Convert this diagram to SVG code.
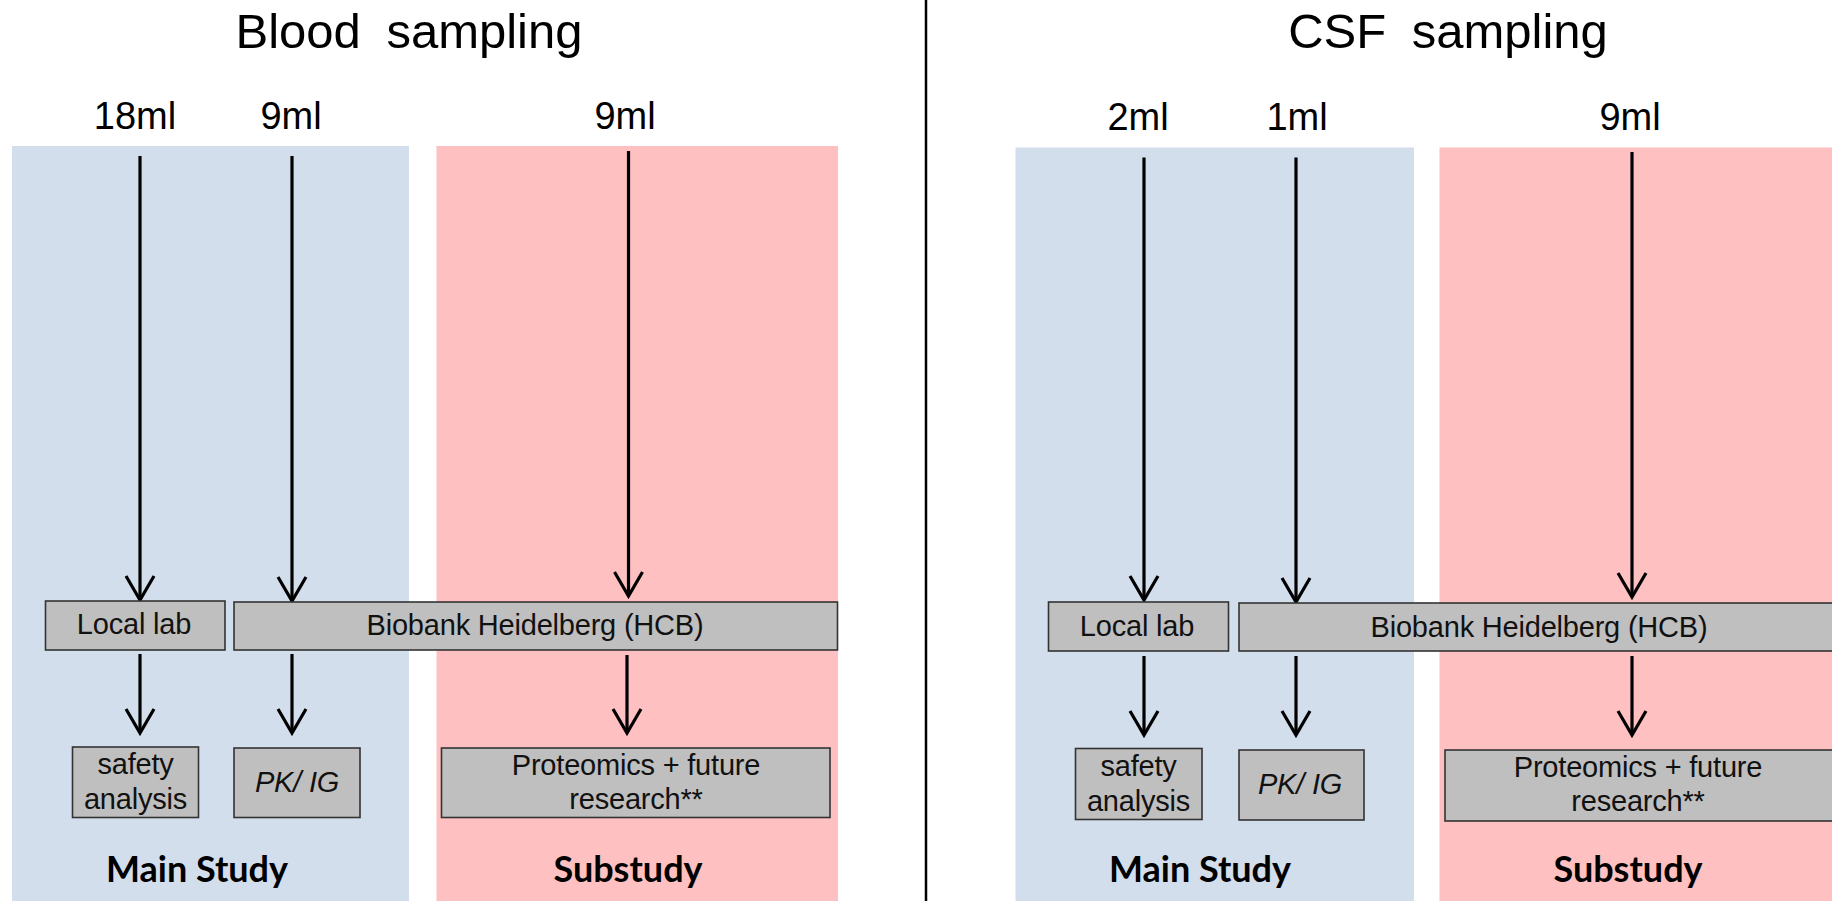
<svg xmlns="http://www.w3.org/2000/svg" width="1832" height="901" viewBox="0 0 1832 901">
  <style>
    .bg { fill: #ffffff; }
    .main { fill: #d3deed; }
    .sub { fill: #fec0c0; }
    .box { fill: #bfbfbf; stroke: #333333; stroke-width: 1.6; }
    .title { font-family: "Liberation Sans", Arial, sans-serif; font-size: 49px; word-spacing: 12px; fill: #000; text-anchor: middle; }
    .vol { font-family: "Liberation Sans", Arial, sans-serif; font-size: 38px; fill: #000; text-anchor: middle; }
    .lbl { font-family: "Liberation Sans", Arial, sans-serif; font-size: 29px; letter-spacing: -0.2px; fill: #111; text-anchor: middle; }
    .it { font-style: italic; }
    .study { font-family: Lato, "Open Sans", sans-serif; font-weight: bold; font-size: 36px; fill: #000; text-anchor: middle; }
    .flow { stroke: #000; stroke-width: 3.2; fill: none; marker-end: url(#vhead); }
    .divider { stroke: #000; stroke-width: 2.5; }
  </style>
  <defs>
    <marker id="vhead" markerUnits="userSpaceOnUse" viewBox="-28 -17 32 34" markerWidth="32" markerHeight="34" refX="0" refY="0" orient="auto">
      <path d="M -24 -14 L 0 0 L -24 14" fill="none" stroke="#000" stroke-width="3.2" stroke-linejoin="miter"/>
    </marker>
  </defs>

  <rect class="bg" x="0" y="0" width="1832" height="901"/>

  <!-- study areas -->
  <g id="areas">
    <rect class="main" x="12" y="146" width="397" height="760"/>
    <rect class="sub" x="436.5" y="146" width="401.5" height="760"/>
    <rect class="main" x="1015.5" y="147.5" width="398.5" height="760"/>
    <rect class="sub" x="1439.5" y="147.5" width="400" height="760"/>
  </g>

  <line class="divider" x1="926" y1="0" x2="926" y2="901"/>

  <!-- headings -->
  <g id="headings">
    <text class="title" x="409" y="48">Blood sampling</text>
    <text class="title" x="1448" y="48">CSF sampling</text>
    <text class="vol" x="135" y="128.5">18ml</text>
    <text class="vol" x="291" y="128.5">9ml</text>
    <text class="vol" x="625" y="128.5">9ml</text>
    <text class="vol" x="1138" y="130">2ml</text>
    <text class="vol" x="1297" y="130">1ml</text>
    <text class="vol" x="1630" y="130">9ml</text>
  </g>

  <!-- connectors -->
  <g id="connectors">
    <line class="flow" x1="140" y1="156" x2="140" y2="600"/>
    <line class="flow" x1="292" y1="156" x2="292" y2="601"/>
    <line class="flow" x1="628.5" y1="151" x2="628.5" y2="596"/>
    <line class="flow" x1="140" y1="654" x2="140" y2="733"/>
    <line class="flow" x1="292" y1="654" x2="292" y2="733"/>
    <line class="flow" x1="627" y1="655" x2="627" y2="733"/>

    <line class="flow" x1="1144" y1="157.5" x2="1144" y2="600"/>
    <line class="flow" x1="1296" y1="157.5" x2="1296" y2="602"/>
    <line class="flow" x1="1632" y1="152" x2="1632" y2="597"/>
    <line class="flow" x1="1144" y1="656" x2="1144" y2="735"/>
    <line class="flow" x1="1296" y1="656" x2="1296" y2="735"/>
    <line class="flow" x1="1632" y1="656" x2="1632" y2="735"/>
  </g>

  <!-- blood sampling nodes -->
  <g id="blood-local-lab">
    <rect class="box" x="45.5" y="601" width="179.5" height="49"/>
    <text class="lbl" x="134" y="634">Local lab</text>
  </g>
  <g id="blood-biobank">
    <rect class="box" x="234" y="602" width="603.5" height="48"/>
    <text class="lbl" x="535" y="635">Biobank Heidelberg (HCB)</text>
  </g>
  <g id="blood-safety">
    <rect class="box" x="72.5" y="747" width="126" height="70.5"/>
    <text class="lbl" x="135.5" y="774">safety</text>
    <text class="lbl" x="135.5" y="809">analysis</text>
  </g>
  <g id="blood-pkig">
    <rect class="box" x="234" y="748" width="126" height="69.5"/>
    <text class="lbl it" x="297" y="792">PK/ IG</text>
  </g>
  <g id="blood-proteomics">
    <rect class="box" x="441.5" y="748" width="388.5" height="69.5"/>
    <text class="lbl" x="636" y="775">Proteomics + future</text>
    <text class="lbl" x="636" y="809">research**</text>
  </g>

  <!-- CSF sampling nodes -->
  <g id="csf-local-lab">
    <rect class="box" x="1048.5" y="602" width="180" height="49"/>
    <text class="lbl" x="1137" y="636">Local lab</text>
  </g>
  <g id="csf-biobank">
    <rect class="box" x="1239" y="603" width="620" height="48"/>
    <text class="lbl" x="1539" y="637">Biobank Heidelberg (HCB)</text>
  </g>
  <g id="csf-safety">
    <rect class="box" x="1075.5" y="748.5" width="126.5" height="71"/>
    <text class="lbl" x="1138.5" y="776">safety</text>
    <text class="lbl" x="1138.5" y="811">analysis</text>
  </g>
  <g id="csf-pkig">
    <rect class="box" x="1239" y="750" width="125" height="70"/>
    <text class="lbl it" x="1300" y="794">PK/ IG</text>
  </g>
  <g id="csf-proteomics">
    <rect class="box" x="1445" y="750" width="420" height="71"/>
    <text class="lbl" x="1638" y="777">Proteomics + future</text>
    <text class="lbl" x="1638" y="811">research**</text>
  </g>

  <!-- study captions -->
  <g id="captions">
    <text class="study" x="197" y="882">Main Study</text>
    <text class="study" x="628" y="882">Substudy</text>
    <text class="study" x="1200" y="882">Main Study</text>
    <text class="study" x="1628" y="882">Substudy</text>
  </g>
</svg>
